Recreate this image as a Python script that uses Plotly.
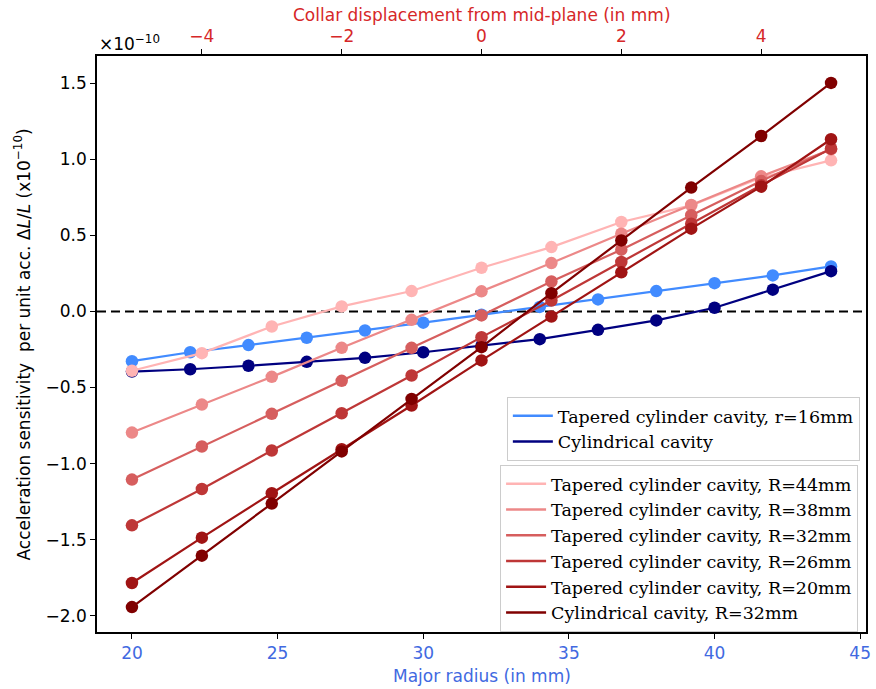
import plotly.graph_objects as go

# Bottom-axis series (major radius, mm)
radius = [20, 22, 24, 26, 28, 30, 32, 34, 36, 38, 40, 42, 44]
tapered_r16 = [-0.327, -0.268, -0.221, -0.173, -0.125, -0.074, -0.022, 0.03, 0.079, 0.134, 0.186, 0.237, 0.296]
cylindrical = [-0.395, -0.38, -0.357, -0.331, -0.305, -0.268, -0.225, -0.182, -0.121, -0.059, 0.024, 0.143, 0.265]

# Top-axis series (collar displacement, mm)
displacement = [-5, -4, -3, -2, -1, 0, 1, 2, 3, 4, 5]
tapered_R44 = [-0.39, -0.274, -0.099, 0.033, 0.134, 0.287, 0.423, 0.588, 0.697, 0.88, 0.993]
tapered_R38 = [-0.796, -0.612, -0.43, -0.239, -0.055, 0.132, 0.318, 0.511, 0.70, 0.888, 1.065]
tapered_R32 = [-1.105, -0.888, -0.673, -0.456, -0.239, -0.026, 0.197, 0.406, 0.632, 0.857, 1.07]
tapered_R26 = [-1.406, -1.167, -0.914, -0.669, -0.421, -0.169, 0.072, 0.325, 0.577, 0.829, 1.07]
tapered_R20 = [-1.785, -1.487, -1.195, -0.905, -0.618, -0.322, -0.033, 0.257, 0.544, 0.82, 1.132]
cyl_R32 = [-1.943, -1.605, -1.263, -0.92, -0.575, -0.235, 0.12, 0.467, 0.814, 1.153, 1.502]

blue_names = ["Tapered cylinder cavity, r=16mm", "Cylindrical cavity"]
blue_series = [tapered_r16, cylindrical]
blue_colors = ["#418bff", "#000080"]

red_names = ["Tapered cylinder cavity, R=44mm", "Tapered cylinder cavity, R=38mm",
             "Tapered cylinder cavity, R=32mm", "Tapered cylinder cavity, R=26mm",
             "Tapered cylinder cavity, R=20mm", "Cylindrical cavity, R=32mm"]
red_series = [tapered_R44, tapered_R38, tapered_R32, tapered_R26, tapered_R20, cyl_R32]
red_colors = ["#ffb4b4", "#ec8888", "#d65e5e", "#be3737", "#a01414", "#800000"]

bottom_ticks = [20, 25, 30, 35, 40, 45]
top_ticks = [-4, -2, 0, 2, 4]
y_ticks = [-2.0, -1.5, -1.0, -0.5, 0.0, 0.5, 1.0, 1.5]

fig = go.Figure()

for name, ys, c in zip(blue_names, blue_series, blue_colors):
    fig.add_trace(go.Scatter(x=radius, y=ys, mode="lines+markers", showlegend=False,
                             line=dict(color=c, width=2.2), marker=dict(color=c, size=12.5),
                             xaxis="x", yaxis="y"))
for name, ys, c in zip(red_names, red_series, red_colors):
    fig.add_trace(go.Scatter(x=displacement, y=ys, mode="lines+markers", showlegend=False,
                             line=dict(color=c, width=2.2), marker=dict(color=c, size=12.5),
                             xaxis="x2", yaxis="y"))

# legend entries (lines only)
for name, c in zip(blue_names, blue_colors):
    fig.add_trace(go.Scatter(x=[None], y=[None], mode="lines", name=name,
                             line=dict(color=c, width=2.5), legend="legend"))
for name, c in zip(red_names, red_colors):
    fig.add_trace(go.Scatter(x=[None], y=[None], mode="lines", name=name,
                             line=dict(color=c, width=2.5), legend="legend2", xaxis="x2"))

fig.add_shape(type="line", xref="paper", yref="y", x0=0, x1=1, y0=0, y1=0,
              line=dict(color="black", width=2, dash="9px,5px"), layer="below")

FS = 17
axis_font = dict(family="DejaVu Sans", size=FS, color="black")
legend_common = dict(xanchor="right", yanchor="top", bgcolor="rgba(255,255,255,0.85)",
                     bordercolor="#cccccc", borderwidth=1, itemwidth=40,
                     font=dict(family="DejaVu Serif", size=17.5, color="black"),
                     tracegroupgap=0)

fig.update_layout(
    width=876, height=689,
    margin=dict(l=97, r=5, t=56, b=57),
    plot_bgcolor="white", paper_bgcolor="white",
    font=axis_font,
    xaxis=dict(range=[18.8, 45.2], tickvals=bottom_ticks, showgrid=False, zeroline=False,
               showline=True, linecolor="black", linewidth=1.5, mirror=True,
               ticks="outside", ticklen=5, tickwidth=1.2, tickcolor="black",
               tickfont=dict(family="DejaVu Sans", size=FS, color="#4169e1")),
    xaxis2=dict(range=[-5.5, 5.5], tickvals=top_ticks, overlaying="x", side="top",
                anchor="y", showgrid=False, zeroline=False,
                showline=True, linecolor="black", linewidth=1.5,
                ticks="outside", ticklen=5, tickwidth=1.2, tickcolor="black",
                tickfont=dict(family="DejaVu Sans", size=FS, color="#d62728")),
    yaxis=dict(range=[-2.107, 1.679], tickvals=y_ticks, tickformat=".1f",
               showgrid=False, zeroline=False,
               showline=True, linecolor="black", linewidth=1.5, mirror=True,
               ticks="outside", ticklen=5, tickwidth=1.2, tickcolor="black",
               tickfont=dict(family="DejaVu Sans", size=FS, color="black")),
    legend=dict(x=0.992, y=0.408, **legend_common),
    legend2=dict(x=0.9897, y=0.29, **legend_common),
    annotations=[
        dict(text="Collar displacement from mid-plane (in mm)", xref="paper", yref="paper",
             x=0.5, y=1.0712, xanchor="center", yanchor="middle", showarrow=False,
             font=dict(family="DejaVu Sans", size=FS, color="#d62728")),
        dict(text="Major radius (in mm)", xref="paper", yref="paper",
             x=0.5, y=-0.0764, xanchor="center", yanchor="middle", showarrow=False,
             font=dict(family="DejaVu Sans", size=FS, color="#4169e1")),
        dict(text="×10<sup>−10</sup>", xref="paper", yref="paper",
             x=0.0, y=1.0226, xanchor="left", yanchor="middle", showarrow=False,
             font=dict(family="DejaVu Sans", size=FS, color="black")),
        dict(text="Acceleration sensitivity  per unit acc. Δ<i>L</i>/<i>L</i> (x10<sup>−10</sup>)",
             xref="paper", yref="paper", x=-0.0969, y=0.5, xanchor="center", yanchor="middle",
             textangle=-90, showarrow=False,
             font=dict(family="DejaVu Sans", size=FS, color="black")),
    ],
)

fig.write_html("out.html")
